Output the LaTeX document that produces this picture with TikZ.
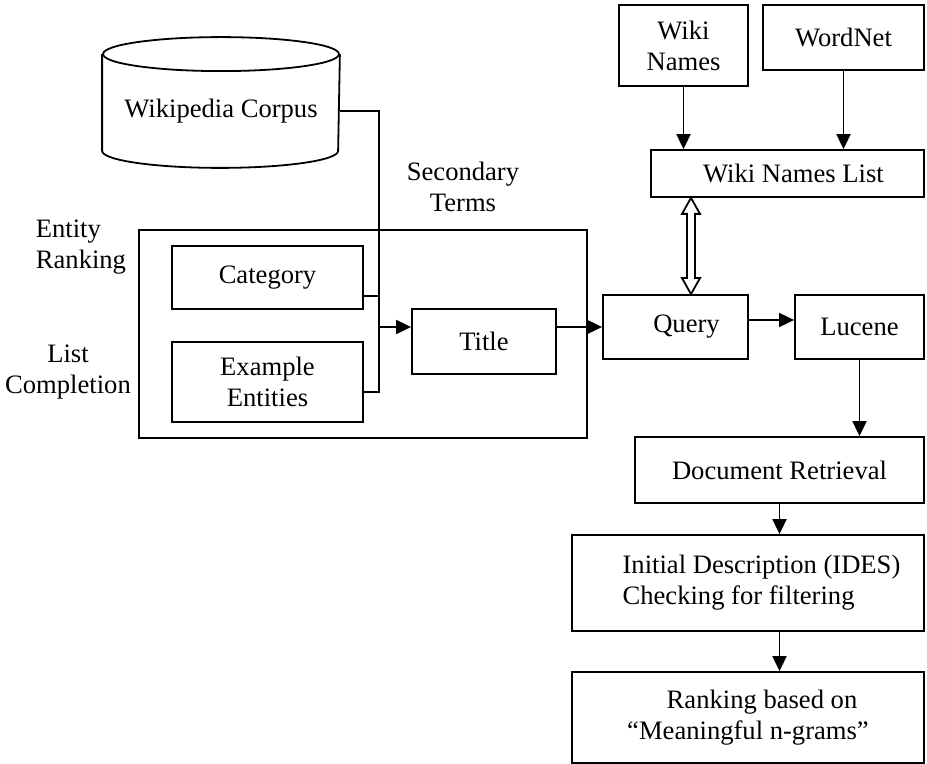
\documentclass[tikz,border=0pt]{standalone}
\usepackage{fontspec}
\setmainfont{Liberation Serif}
\usetikzlibrary{arrows.meta,calc}

\begin{document}
\begin{tikzpicture}[x=0.5pt, y=-0.5pt, line width=0.9pt,
    >={Triangle[length=7.5pt,width=7pt]},
    every node/.style={font=\fontsize{13.3}{15.5}\selectfont},
    box/.style={draw, rectangle, align=center, inner sep=0pt},
    lbl/.style={inner sep=0pt, align=center}]
    \useasboundingbox (0,0) rectangle (927,764);

    % corpus drum
    \node[inner sep=0pt, minimum width=118pt, minimum height=56pt] (corpus) at (221,111) {Wikipedia Corpus};
    \draw (corpus.north west) -- ([yshift=8.5pt]corpus.south west)
        arc[start angle=180, end angle=360, x radius=59pt, y radius=8.5pt]
        -- (corpus.north east);
    \draw (corpus.north) ellipse[x radius=59pt, y radius=8.5pt];

    % query terms
    \node[box, minimum width=224pt, minimum height=104pt] (terms) at (363,334) {};
    \node[box, minimum width=95.5pt, minimum height=31.5pt] (cat) at (267.5,277.5) {Category};
    \node[box, minimum width=95.5pt, minimum height=40pt] (ex) at (267.5,382) {Example\\Entities};
    \node[box, minimum width=72pt, minimum height=32.5pt] (title) at (484,341.5) {Title};

    \node[lbl, align=left, anchor=west] (er) at (35,247.5) {Entity\\Ranking};
    \node[lbl] (lc) at (68,372) {List\\Completion};
    \node[lbl] (st) at (463,187) {Secondary\\Terms};

    % retrieval chain
    \node[box, minimum width=72.5pt, minimum height=32pt] (query) at (675.5,327) {\hspace*{11pt}Query};
    \node[box, minimum width=64.5pt, minimum height=32pt] (lucene) at (859.5,327) {Lucene};
    \node[box, minimum width=144.5pt, minimum height=33pt] (docret) at (779.5,470) {Document Retrieval};
    \node[box, minimum width=176pt, minimum height=48pt, align=left] (ides) at (748,583)
        {\hspace*{13.5pt}Initial Description (IDES)\\\hspace*{13.5pt}Checking for filtering};
    \node[box, minimum width=176pt, minimum height=45.5pt] (rank) at (748,717.5)
        {\hspace*{14pt}Ranking based on\\“Meaningful n-grams”};

    % name lists
    \node[box, minimum width=64.5pt, minimum height=40.5pt] (wnames) at (683.5,45.5) {Wiki\\Names};
    \node[box, minimum width=80.5pt, minimum height=32.5pt] (wordnet) at (843.5,37.5) {WordNet};
    \node[box, minimum width=136.5pt, minimum height=23.5pt] (wnl) at (787.5,173.5) {\hspace*{6pt}Wiki Names List};

    \coordinate (join) at (379,327);
    \coordinate (catout) at ([yshift=7pt]cat.south east);
    \coordinate (exout) at ([yshift=15.5pt]ex.south east);
    \draw (corpus.east) -| (join |- exout) -- (exout);
    \draw (catout) -- (join |- catout);
    \draw[->] (join) -- (title.west |- join);
    \draw[->] (title.east |- join) -- (query.west);
    \draw[->] ([yshift=3.5pt]query.east) -- ([yshift=3.5pt]lucene.west);
    \draw[->] (lucene.south) -- (lucene.south |- docret.north);
    \draw[->] (docret.south) -- (docret.south |- ides.north);
    \draw[->] (docret.south |- ides.south) -- (docret.south |- rank.north);
    \draw[->] (wnames.south) -- (wnames.south |- wnl.north);
    \draw[->] (wordnet.south) -- (wordnet.south |- wnl.north);

    % hollow two-way arrow
    \coordinate (dtop) at ([xshift=-48.25pt]wnl.south);
    \coordinate (dbot) at ([xshift=7.75pt]query.north);
    \draw[fill=white] (dtop) -- ++(4.5pt,-8pt) -- ++(-2.5pt,0pt)
        -- ($(dbot)+(2pt,8pt)$) -- ++(2.5pt,0pt) -- (dbot)
        -- ++(-4.5pt,8pt) -- ++(2.5pt,0pt)
        -- ($(dtop)+(-2pt,-8pt)$) -- ++(-2.5pt,0pt) -- cycle;
\end{tikzpicture}
\end{document}
